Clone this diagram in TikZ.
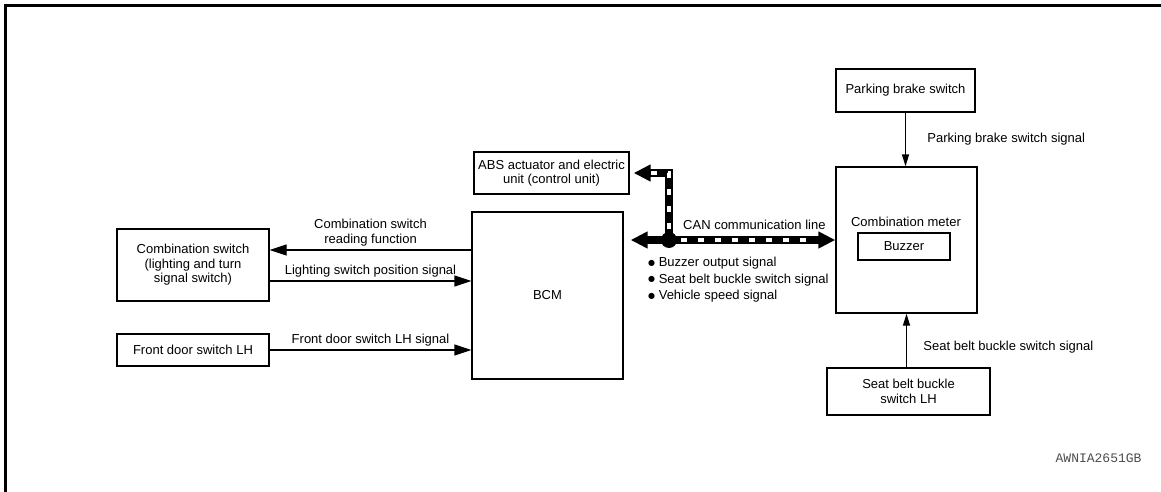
\documentclass[tikz,border=0pt]{standalone}
\usepackage{fontspec}
\setmainfont{Liberation Sans}
\newfontfamily\codefont{Liberation Mono}
\newfontfamily\symfont{DejaVu Sans}
\newcommand\canitem{\raisebox{1.5pt}{\symfont\fontsize{8}{0}\selectfont ●}\ }
\usetikzlibrary{arrows.meta,calc}

\tikzset{
  box/.style={draw, line width=1.3pt, align=center, inner sep=2pt},
  sig/.style={line width=1.3pt, -{Triangle[length=17pt,width=11pt]}},
  vsig/.style={line width=1.3pt, -{Triangle[length=12pt,width=7pt]}},
  canbus/.style={line width=8pt, line join=miter, -{Triangle[length=17pt,width=16pt]}},
  candash/.style={line width=3.5pt, white, dash pattern=on 6pt off 11pt},
}

\begin{document}
\begin{tikzpicture}[x=1pt, y=-1pt, font=\fontsize{13}{14.5}\selectfont]

\useasboundingbox (0,0) rectangle (1161,492);

% frame
\draw[line width=3pt] (5.5,492) -- (5.5,5.5) -- (1161,5.5);

% boxes
\node[box, minimum width=139, minimum height=43] (pbs) at (905.5,90.5) {Parking brake switch};
\node[box, minimum width=141, minimum height=146] (meter) at (906.5,240) {};
\node (meterlbl) at (906,222) {Combination meter};
\node[box, minimum width=92, minimum height=27] (buzzer) at (904,246.5) {Buzzer};
\node[box, minimum width=163, minimum height=47] (seat) at (908.5,391.5) {Seat belt buckle\\switch LH};
\node[box, minimum width=151, minimum height=167] (bcm) at (547.5,295.5) {BCM};
\node[box, minimum width=155, minimum height=42] (abs) at (551.5,173) {ABS actuator and electric\\unit (control unit)};
\node[box, minimum width=152, minimum height=72] (comb) at (193,265) {Combination switch\\(lighting and turn\\signal switch)};
\node[box, minimum width=152, minimum height=32] (door) at (193,350) {Front door switch LH};

% signal lines
\coordinate (rd) at ([yshift=15pt]comb.east);
\coordinate (lt) at ([yshift=-16pt]comb.east);
\draw[sig] (bcm.west |- rd) -- node[midway, above, align=center] (rdlbl) {Combination switch\\reading function} (rd);
\draw[sig] (lt) -- node[midway, above] (ltlbl) {Lighting switch position signal} (bcm.west |- lt);
\draw[sig] (door.east) -- node[midway, above] (doorlbl) {Front door switch LH signal} (bcm.west |- door.east);

\draw[vsig] (pbs.south) -- node[midway, right, xshift=18pt] (pbslbl) {Parking brake switch signal} (pbs.south |- meter.north);
\coordinate (st) at (meter.south |- seat.north);
\draw[vsig] (st) -- node[midway, right, xshift=13pt, yshift=-7pt] (seatlbl) {Seat belt buckle switch signal} (meter.south);

% CAN communication line
\coordinate (jn) at (669,240);
\coordinate (cnr) at (jn |- abs.east);
\draw[canbus] (jn) -- ([xshift=7pt]bcm.east |- jn);
\draw[canbus] (jn) -- (meter.west |- jn);
\draw[canbus] (jn) -- (cnr) -- ([xshift=4pt]abs.east);
\draw[candash] ([xshift=12pt]jn) -- ([xshift=-19pt]meter.west |- jn);
\draw[candash] ([yshift=11pt]jn) -- (cnr) -- ([xshift=17pt]abs.east);
\fill (jn) circle (8);
\node[anchor=south west, inner sep=0pt] (canlbl) at (683,230) {CAN communication line};

\node[anchor=north west, align=left, inner sep=0pt, font=\fontsize{13}{16.5}\selectfont] (canlist) at (648,257)
  {\canitem Buzzer output signal\\\canitem Seat belt buckle switch signal\\\canitem Vehicle speed signal};

\node[anchor=east, text=black!70, font=\codefont\fontsize{13}{15}\selectfont] (code) at (1145,458) {AWNIA2651GB};

\end{tikzpicture}
\end{document}
